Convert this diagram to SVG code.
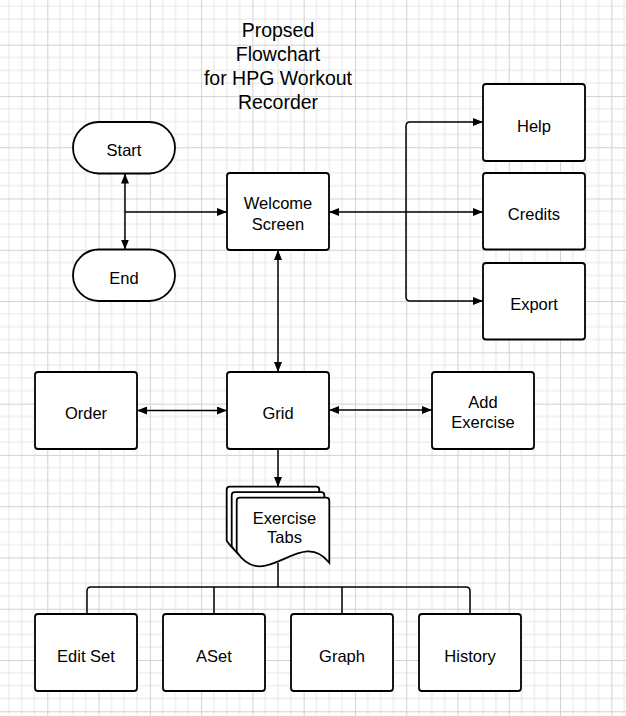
<svg xmlns="http://www.w3.org/2000/svg" width="626" height="716" viewBox="0 0 626 716">
<style>
.box{fill:#fff;stroke:#000;stroke-width:1.8}
.lbl{font-family:"Liberation Sans",Arial,sans-serif;font-size:16.5px;fill:#000;text-anchor:middle}
.title{font-family:"Liberation Sans",Arial,sans-serif;font-size:19.5px;fill:#000;text-anchor:middle}
.conn{fill:none;stroke:#000;stroke-width:1.5}
</style>
<defs>
<pattern id="grid" patternUnits="userSpaceOnUse" x="47.26" y="44.66" width="51.28" height="51.28">
<rect x="0" y="0" width="51.28" height="51.28" fill="#fff"/>
<rect x="12.32" y="0" width="1" height="51.28" fill="#e6e6e6"/>
<rect x="25.14" y="0" width="1" height="51.28" fill="#e6e6e6"/>
<rect x="37.96" y="0" width="1" height="51.28" fill="#e6e6e6"/>
<rect x="0" y="12.32" width="51.28" height="1" fill="#e6e6e6"/>
<rect x="0" y="25.14" width="51.28" height="1" fill="#e6e6e6"/>
<rect x="0" y="37.96" width="51.28" height="1" fill="#e6e6e6"/>
<rect x="0" y="0" width="1" height="51.28" fill="#d2d2d2"/>
<rect x="0" y="0" width="51.28" height="1" fill="#d2d2d2"/>
</pattern>
<marker id="arr" viewBox="0 0 10 8" refX="10" refY="4" markerWidth="10" markerHeight="8" markerUnits="userSpaceOnUse" orient="auto-start-reverse">
<path d="M0,0 L10,4 L0,8 z" fill="#000"/>
</marker>
<path id="doc" d="M0,3 Q0,0 3,0 L89.6,0 Q92.6,0 92.6,3 L92.6,65 C63.6,28 28.6,97 0,54 Z"/>
</defs>
<rect x="0" y="0" width="626" height="716" fill="url(#grid)"/>

<g id="title">
<text class="title" x="278" y="36.7">Propsed</text>
<text class="title" x="278" y="60.7">Flowchart</text>
<text class="title" x="278" y="85">for HPG Workout</text>
<text class="title" x="278" y="109">Recorder</text>
</g>

<g id="connectors">
<path class="conn" d="M125,173.5 L125,249.5" marker-start="url(#arr)" marker-end="url(#arr)"/>
<path class="conn" d="M125,212 L227,212" marker-end="url(#arr)"/>
<path class="conn" d="M278,250 L278,372" marker-start="url(#arr)" marker-end="url(#arr)"/>
<path class="conn" d="M406,212 L329,212" marker-end="url(#arr)"/>
<path class="conn" d="M483,122 L410,122 Q406,122 406,126 L406,297 Q406,301 410,301 L483,301" marker-start="url(#arr)" marker-end="url(#arr)"/>
<path class="conn" d="M406,212 L483,212" marker-end="url(#arr)"/>
<path class="conn" d="M137,410.5 L227,410.5" marker-start="url(#arr)" marker-end="url(#arr)"/>
<path class="conn" d="M329,410 L432,410" marker-start="url(#arr)" marker-end="url(#arr)"/>
<path class="conn" d="M278,449 L278,487" marker-end="url(#arr)"/>
<path class="conn" d="M278,563 L278,587"/>
<path class="conn" d="M87,614 L87,591 Q87,587 91,587 L466,587 Q470,587 470,591 L470,614"/>
<path class="conn" d="M214,587 L214,614"/>
<path class="conn" d="M342,587 L342,614"/>
</g>

<g id="start">
<rect class="box" x="73" y="122" width="102" height="51.5" rx="25.75"/>
<text class="lbl" x="124" y="156">Start</text>
</g>
<g id="end">
<rect class="box" x="73" y="249.5" width="102" height="51.5" rx="25.75"/>
<text class="lbl" x="124" y="284">End</text>
</g>
<g id="welcome">
<rect class="box" x="227" y="173" width="102" height="77" rx="3"/>
<text class="lbl" x="278" y="209.3">Welcome</text>
<text class="lbl" x="278" y="230">Screen</text>
</g>
<g id="help">
<rect class="box" x="483" y="84" width="102" height="77" rx="3"/>
<text class="lbl" x="534" y="131.5">Help</text>
</g>
<g id="credits">
<rect class="box" x="483" y="173" width="102" height="76.5" rx="3"/>
<text class="lbl" x="534" y="220">Credits</text>
</g>
<g id="export">
<rect class="box" x="483" y="263" width="102" height="76.5" rx="3"/>
<text class="lbl" x="534" y="310">Export</text>
</g>
<g id="order">
<rect class="box" x="35" y="372" width="102" height="77" rx="3"/>
<text class="lbl" x="86" y="419">Order</text>
</g>
<g id="grid-node">
<rect class="box" x="227" y="372" width="102" height="77" rx="3"/>
<text class="lbl" x="278" y="419">Grid</text>
</g>
<g id="add-exercise">
<rect class="box" x="432" y="372" width="102" height="77" rx="3"/>
<text class="lbl" x="483" y="407.7">Add</text>
<text class="lbl" x="483" y="428.3">Exercise</text>
</g>
<g id="exercise-tabs">
<use href="#doc" x="226.7" y="486.7" class="box"/>
<use href="#doc" x="231.7" y="492.2" class="box"/>
<use href="#doc" x="236.7" y="497.7" class="box"/>
<text class="lbl" x="284.5" y="524">Exercise</text>
<text class="lbl" x="284.5" y="543.3">Tabs</text>
</g>
<g id="edit-set">
<rect class="box" x="35" y="614" width="102" height="77" rx="3"/>
<text class="lbl" x="86" y="661.5">Edit Set</text>
</g>
<g id="aset">
<rect class="box" x="163" y="614" width="102" height="77" rx="3"/>
<text class="lbl" x="214" y="661.5">ASet</text>
</g>
<g id="graph">
<rect class="box" x="291" y="614" width="102" height="77" rx="3"/>
<text class="lbl" x="342" y="661.5">Graph</text>
</g>
<g id="history">
<rect class="box" x="419" y="614" width="102" height="77" rx="3"/>
<text class="lbl" x="470" y="661.5">History</text>
</g>
</svg>
